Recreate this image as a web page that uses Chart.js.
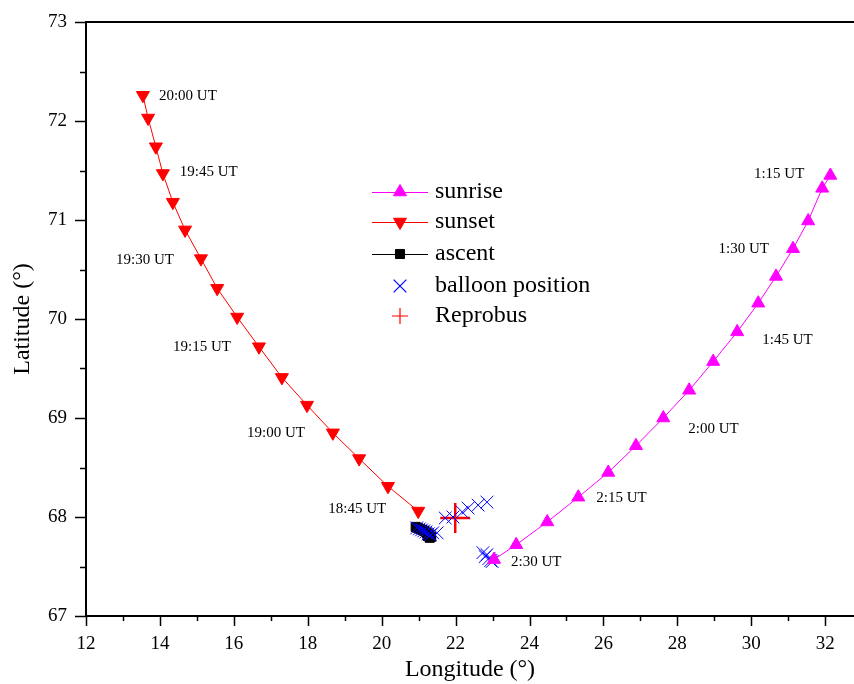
<!DOCTYPE html>
<html>
<head>
<meta charset="utf-8">
<title>Balloon track</title>
<script src="https://cdn.jsdelivr.net/npm/chart.js@4.4.0/dist/chart.umd.min.js"></script>
<style>
    html, body { margin: 0; padding: 0; background: #fff; }
    #wrap { width: 854px; height: 684px; position: relative; }
</style>
</head>
<body>
<div id="wrap"><canvas id="trackChart"></canvas></div>
<script>
// --- Data (longitude / latitude in degrees) ---
const sunsetLon = [13.54, 13.68, 13.89, 14.08, 14.35, 14.68, 15.11, 15.55, 16.09, 16.68, 17.30, 17.98, 18.68, 19.39, 20.17, 20.99];
const sunsetLat = [72.26, 72.03, 71.74, 71.47, 71.18, 70.90, 70.61, 70.31, 70.02, 69.72, 69.41, 69.13, 68.85, 68.59, 68.31, 68.06];
const sunsetTimes = ['20:00 UT', '19:45 UT', '19:30 UT', '19:15 UT', '19:00 UT', '18:45 UT'];

const sunriseLon = [32.14, 31.92, 31.54, 31.13, 30.67, 30.19, 29.62, 28.97, 28.32, 27.62, 26.88, 26.13, 25.32, 24.48, 23.64, 23.04];
const sunriseLat = [71.45, 71.32, 70.99, 70.71, 70.43, 70.16, 69.87, 69.57, 69.28, 69.00, 68.72, 68.45, 68.20, 67.95, 67.72, 67.57];
const sunriseTimes = ['1:15 UT', '1:30 UT', '1:45 UT', '2:00 UT', '2:15 UT', '2:30 UT'];

const ascentLon = [20.92, 20.98, 21.04, 21.10, 21.16, 21.22, 21.28, 21.34, 21.30, 21.24];
const ascentLat = [67.90, 67.89, 67.88, 67.87, 67.86, 67.84, 67.82, 67.80, 67.79, 67.81];

const balloonLon = [20.95, 21.02, 21.08, 21.14, 21.20, 21.26, 21.32, 21.38, 21.50, 21.72, 21.93, 22.18, 22.34, 22.61, 22.85, 22.74, 22.80, 22.85, 22.90, 22.95, 22.99];
const balloonLat = [67.89, 67.88, 67.87, 67.86, 67.85, 67.83, 67.82, 67.84, 67.84, 67.99, 68.00, 68.05, 68.09, 68.12, 68.15, 67.64, 67.60, 67.62, 67.58, 67.56, 67.55];

const reprobusLon = [21.99];
const reprobusLat = [67.99];

// Axis ranges
const lonRange = [12, 32.78];
const latRange = [67, 73];

const FONT = "'Liberation Serif', 'Times New Roman', serif";
const MAGENTA = '#ff00ff';
const RED = '#ff0000';
const BLUE = '#0000ff';

function toPoints(xs, ys) {
    return xs.map((x, i) => ({ x: x, y: ys[i] }));
}

// Time labels: every third point, offset from the marker (dx, dy, align)
const sunsetLabelPlacement = [
    [16, 1, 'left'], [17, -1, 'left'], [-27, 1, 'right'],
    [-28, 0, 'right'], [-28, 0, 'right'], [-32, -2, 'right']
];
const sunriseLabelPlacement = [
    [-26, -1, 'right'], [-24, 0, 'right'], [25, 8, 'left'],
    [25, 11, 'left'], [18, 1, 'left'], [17, 2, 'left']
];

function drawTimeLabels(chart, datasetIndex, labels, placement) {
    const ctx = chart.ctx;
    const meta = chart.getDatasetMeta(datasetIndex);
    ctx.save();
    ctx.font = '15px ' + FONT;
    ctx.fillStyle = '#000';
    ctx.textBaseline = 'middle';
    labels.forEach((txt, k) => {
        const el = meta.data[k * 3];
        if (!el) return;
        const p = placement[k];
        ctx.textAlign = p[2];
        ctx.fillText(txt, el.x + p[0], el.y + p[1]);
    });
    ctx.restore();
}

function drawMarker(ctx, style, rotation, radius, color, width, x, y) {
    ctx.fillStyle = color;
    ctx.strokeStyle = color;
    ctx.lineWidth = width;
    Chart.helpers.drawPoint(ctx, { pointStyle: style, rotation: rotation, radius: radius, borderWidth: width }, x, y);
}

// Frame extras: top line, major/minor tick marks, time labels, legend
const framePlugin = {
    id: 'frame',
    afterDraw(chart) {
        const ctx = chart.ctx;
        const area = chart.chartArea;
        const xs = chart.scales.x;
        const ys = chart.scales.y;

        ctx.save();
        ctx.strokeStyle = '#000';
        ctx.lineWidth = 2;
        ctx.beginPath();
        ctx.moveTo(area.left - 1, area.top);
        ctx.lineTo(area.right, area.top);
        ctx.stroke();

        ctx.lineWidth = 1.5;
        ctx.beginPath();
        for (let v = 12; v <= 32; v++) {
            const px = Math.round(xs.getPixelForValue(v)) + 0.5;
            const len = v % 2 === 0 ? 10 : 5;
            ctx.moveTo(px, area.bottom);
            ctx.lineTo(px, area.bottom + len);
        }
        for (let v = latRange[0]; v <= latRange[1]; v += 0.5) {
            const py = Math.round(ys.getPixelForValue(v)) + 0.5;
            const len = Number.isInteger(v) ? 11 : 6;
            ctx.moveTo(area.left, py);
            ctx.lineTo(area.left - len, py);
        }
        ctx.stroke();
        ctx.restore();

        drawTimeLabels(chart, 4, sunsetTimes, sunsetLabelPlacement);
        drawTimeLabels(chart, 0, sunriseTimes, sunriseLabelPlacement);

        // Legend
        const items = [
            { text: 'sunrise', color: MAGENTA, style: 'triangle', rot: 0, r: 7.5, w: 1, line: true },
            { text: 'sunset', color: RED, style: 'triangle', rot: 180, r: 7.5, w: 1, line: true },
            { text: 'ascent', color: '#000', style: 'rect', rot: 0, r: 6.4, w: 1, line: true },
            { text: 'balloon position', color: BLUE, style: 'crossRot', rot: 0, r: 9, w: 1.2, line: false },
            { text: 'Reprobus', color: RED, style: 'cross', rot: 0, r: 8, w: 1.2, line: false }
        ];
        const rowsY = [192, 222, 254, 286, 316];
        ctx.save();
        items.forEach((it, i) => {
            const y = rowsY[i];
            if (it.line) {
                ctx.strokeStyle = it.color;
                ctx.lineWidth = 1;
                ctx.beginPath();
                ctx.moveTo(372, y + 0.5);
                ctx.lineTo(428, y + 0.5);
                ctx.stroke();
            }
            drawMarker(ctx, it.style, it.rot, it.r, it.color, it.w, 400, y);
            ctx.fillStyle = '#000';
            ctx.font = '24px ' + FONT;
            ctx.textAlign = 'left';
            ctx.textBaseline = 'middle';
            ctx.fillText(it.text, 435, y);
        });
        ctx.restore();
    }
};

function renderChart() {
    const ctx = document.getElementById('trackChart').getContext('2d');
    new Chart(ctx, {
        type: 'scatter',
        data: {
            datasets: [
                {
                    label: 'sunrise', data: toPoints(sunriseLon, sunriseLat), order: 0,
                    showLine: true, borderColor: MAGENTA, borderWidth: 1, backgroundColor: MAGENTA,
                    pointStyle: 'triangle', pointRadius: 7.5, pointBorderWidth: 1
                },
                {
                    label: 'balloon position', data: toPoints(balloonLon, balloonLat), order: 1,
                    showLine: false, borderColor: BLUE, backgroundColor: BLUE,
                    pointStyle: 'crossRot', pointRadius: 9, pointBorderWidth: 1
                },
                {
                    label: 'Reprobus', data: toPoints(reprobusLon, reprobusLat), order: 2,
                    showLine: false, borderColor: RED, backgroundColor: RED,
                    pointStyle: 'cross', pointRadius: 15, pointBorderWidth: 2.5
                },
                {
                    label: 'ascent', data: toPoints(ascentLon, ascentLat), order: 3,
                    showLine: true, borderColor: '#000', borderWidth: 1, backgroundColor: '#000',
                    pointStyle: 'rect', pointRadius: 6.4, pointBorderWidth: 1
                },
                {
                    label: 'sunset', data: toPoints(sunsetLon, sunsetLat), order: 4,
                    showLine: true, borderColor: RED, borderWidth: 1, backgroundColor: RED,
                    pointStyle: 'triangle', pointRotation: 180, pointRadius: 7.5, pointBorderWidth: 1
                }
            ]
        },
        options: {
            responsive: true,
            maintainAspectRatio: false,
            animation: false,
            // no automatic padding for the big markers, the axis runs to the canvas edge
            layout: { autoPadding: false, padding: { top: 22, right: 0, bottom: 0, left: 0 } },
            plugins: {
                legend: { display: false },
                tooltip: { enabled: false }
            },
            scales: {
                x: {
                    type: 'linear',
                    min: lonRange[0],
                    max: lonRange[1],
                    grid: { display: false, drawTicks: false },
                    border: { display: true, color: '#000', width: 2 },
                    ticks: {
                        stepSize: 2, includeBounds: false, autoSkip: false, maxRotation: 0,
                        color: '#000', padding: 17, font: { family: FONT, size: 19 }
                    },
                    title: {
                        display: true, text: 'Longitude (°)', color: '#000',
                        padding: { top: 0, bottom: 0 }, font: { family: FONT, size: 24 }
                    },
                    afterFit(scale) {
                        scale.height = 68;
                        scale.paddingLeft = 0;
                        scale.paddingRight = 0;
                    }
                },
                y: {
                    type: 'linear',
                    min: latRange[0],
                    max: latRange[1],
                    grid: { display: false, drawTicks: false },
                    border: { display: true, color: '#000', width: 2 },
                    ticks: {
                        stepSize: 1, includeBounds: false,
                        color: '#000', padding: 19, font: { family: FONT, size: 19 }
                    },
                    title: {
                        display: true, text: 'Latitude (°)', color: '#000',
                        padding: { top: 8, bottom: 0 }, font: { family: FONT, size: 24 }
                    },
                    afterFit(scale) {
                        scale.width = 86;
                        scale.paddingTop = 0;
                        scale.paddingBottom = 0;
                    }
                }
            }
        },
        plugins: [framePlugin]
    });
}

document.addEventListener('DOMContentLoaded', renderChart);
</script>
</body>
</html>
